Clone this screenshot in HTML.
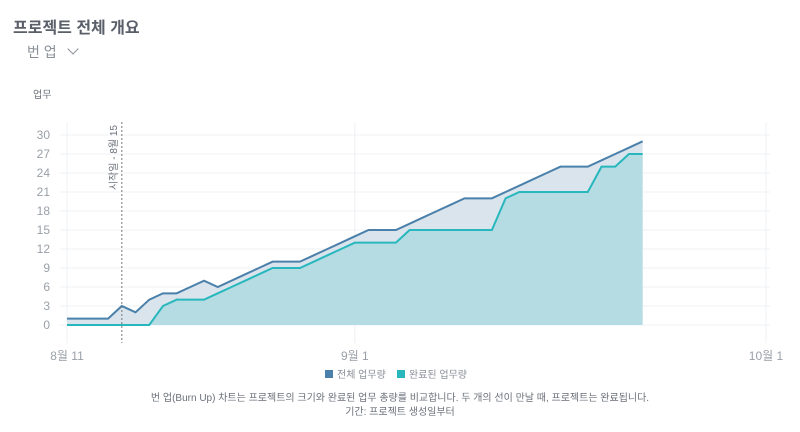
<!DOCTYPE html>
<html><head><meta charset="utf-8">
<style>
body{margin:0;width:800px;height:432px;background:#fff;font-family:"Liberation Sans","Noto Sans CJK KR",sans-serif;overflow:hidden;position:relative}
.t{position:absolute}
</style></head><body>
<div class="t" style="left:13px;top:14px;font-size:16px;font-weight:bold;color:#5a5f6a">프로젝트 전체 개요</div>
<div class="t" style="left:27px;top:42px;font-size:14px;color:#8a8f98">번 업 <span style="display:inline-block;margin-left:8px;width:7px;height:7px;border-right:1.3px solid #8a8f98;border-bottom:1.3px solid #8a8f98;transform:rotate(45deg);position:relative;top:-4px"></span></div>
<svg id="chart" width="800" height="432" style="position:absolute;left:0;top:0"></svg>
<div class="t" style="left:0;width:800px;top:392px;text-align:center;font-size:10px;line-height:14px;color:#6b7078">번 업(Burn Up) 차트는 프로젝트의 크기와 완료된 업무 총량를 비교합니다. 두 개의 선이 만날 때, 프로젝트는 완료됩니다.<br>기간: 프로젝트 생성일부터</div>
<script>
const totalWork=[1,1,1,1,3,2,4,5,5,6,7,6,7,8,9,10,10,10,11,12,13,14,15,15,15,16,17,18,19,20,20,20,21,22,23,24,25,25,25,26,27,28,29];
const doneWork=[0,0,0,0,0,0,0,3,4,4,4,5,6,7,8,9,9,9,10,11,12,13,13,13,13,15,15,15,15,15,15,15,20,21,21,21,21,21,21,25,25,27,27];
const yTicks=[0,3,6,9,12,15,18,21,24,27,30];
const xTickDays=[0,21,51];
const xTickLabels=["8월 11","9월 1","10월 1"];
const startDay=4;
const startLabel="시작일 - 8월 15";
const NS="http://www.w3.org/2000/svg";
const svg=document.getElementById('chart');
const X=d=>67+d*(766-67)/51;
const Y=v=>325-v*(325-135)/30;
function el(tag,attrs,parent){const e=document.createElementNS(NS,tag);for(const k in attrs)e.setAttribute(k,attrs[k]);(parent||svg).appendChild(e);return e;}
yTicks.forEach(v=>{
  const g=el('line',{x1:60,x2:770,y1:Y(v),y2:Y(v),stroke:'#eef0f3','stroke-width':1});
  
  
  const t=el('text',{x:50,y:Y(v)+4,'text-anchor':'end','font-size':12,fill:'#9aa0a8'});
  t.textContent=v;
  
  
});
xTickDays.forEach((d,i)=>{
  const g=el('line',{x1:X(d),x2:X(d),y1:122,y2:343,stroke:'#eef0f3','stroke-width':1});
  
  
  const t=el('text',{x:X(d),y:360,'text-anchor':'middle','font-size':12,fill:'#9aa0a8'});
  t.textContent=xTickLabels[i];
  
  
});
const yt=el('text',{x:33,y:98,'font-size':10,fill:'#6b7078'});
yt.textContent='업무';


function pts(arr){return arr.map((v,i)=>X(i)+','+Y(v)).join(' ');}
const last=totalWork.length-1;
const a1=el('polygon',{points:X(0)+','+Y(0)+' '+pts(totalWork)+' '+X(last)+','+Y(0),fill:'#d9e4ec'});


const a2=el('polygon',{points:X(0)+','+Y(0)+' '+pts(doneWork)+' '+X(doneWork.length-1)+','+Y(0),fill:'#b6dce3'});


const l1=el('polyline',{points:pts(totalWork),fill:'none',stroke:'#4a80aa','stroke-width':2});


const l2=el('polyline',{points:pts(doneWork),fill:'none',stroke:'#27b7bd','stroke-width':2});


const sl=el('line',{x1:X(startDay),x2:X(startDay),y1:122,y2:343,stroke:'#777','stroke-width':1,'stroke-dasharray':'2,2'});


const st=el('text',{x:0,y:0,'font-size':10,fill:'#6b7078','text-anchor':'end',transform:'translate('+(X(startDay)-5)+',125) rotate(-90)'});
st.textContent=startLabel;


const legend=[["전체 업무량","#4a80aa",325],["완료된 업무량","#27b7bd",397]];
legend.forEach(l=>{
  const g=el('g',{});
  
  
  el('rect',{x:l[2],y:370,width:8,height:8,fill:l[1]},g);
  const t=el('text',{x:l[2]+12,y:378,'font-size':10,fill:'#8a8f98'},g);
  t.textContent=l[0];
});
</script>
</body></html>
